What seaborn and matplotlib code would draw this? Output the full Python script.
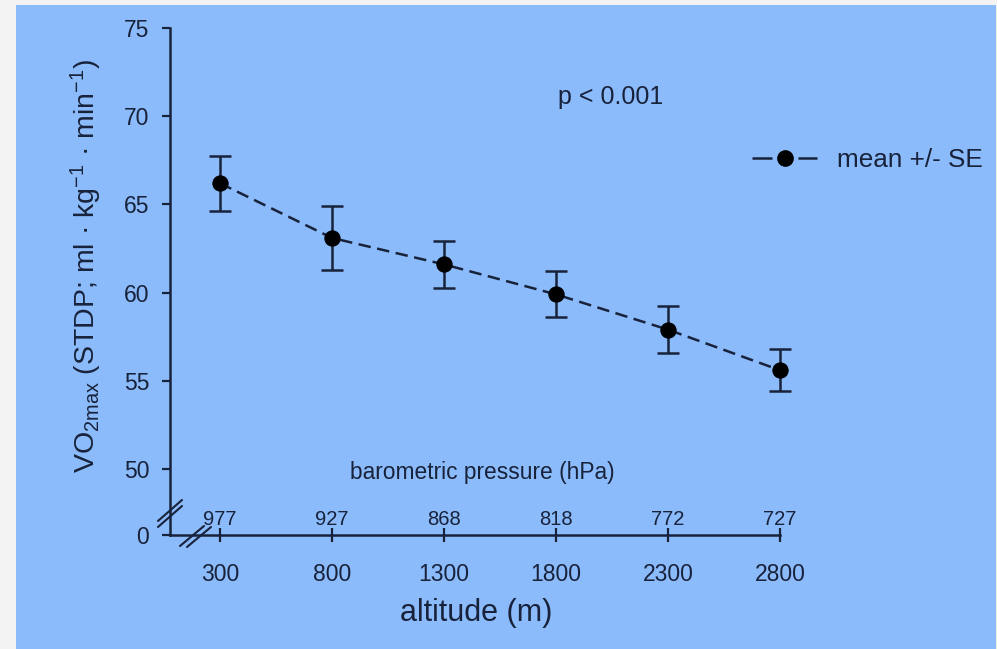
import numpy as np
import pandas as pd
import matplotlib
matplotlib.use("Agg")
import matplotlib.pyplot as plt
from matplotlib.lines import Line2D
from matplotlib.patches import Rectangle
import seaborn as sns

# VO2max per altitude step (mean and standard error)
altitude = [300, 800, 1300, 1800, 2300, 2800]
pressure_hpa = ["977", "927", "868", "818", "772", "727"]
vo2max_mean = [66.2, 63.1, 61.6, 59.9, 57.9, 55.6]
vo2max_se = [1.55, 1.8, 1.35, 1.3, 1.35, 1.2]
y_ticks = [0, 50, 55, 60, 65, 70, 75]

sns.set_theme(style="ticks")
plt.rcParams["font.family"] = ["Liberation Sans", "DejaVu Sans"]
plt.rcParams["mathtext.fontset"] = "custom"
plt.rcParams["mathtext.rm"] = "Liberation Sans"
plt.rcParams["mathtext.it"] = "Liberation Sans:italic"
plt.rcParams["mathtext.bf"] = "Liberation Sans:bold"

INK = "#18223b"
PANEL = "#8bbbfa"

W, H = 997, 649
fig = plt.figure(figsize=(W / 100, H / 100), dpi=100, facecolor="#f3f3f3")
fig.patches.append(Rectangle((16 / W, 0), (996 - 16) / W, (H - 5) / H,
                             transform=fig.transFigure, facecolor=PANEL,
                             edgecolor="none", zorder=-10))
fig.add_artist(Line2D([996.5 / W, 996.5 / W], [0, (H - 5) / H],
                      transform=fig.transFigure, color="#9a9a9a", lw=0.8))

# axes frame in pixel units
ax_left, ax_right, ax_top, ax_bot = 170, 990, 28, 535
ax = fig.add_axes([ax_left / W, 1 - ax_bot / H,
                   (ax_right - ax_left) / W, (ax_bot - ax_top) / H])
ax.set_facecolor("none")

# broken y axis: 0..50 squeezed into a short segment below 50
BREAK, GAP = 50.0, 3.74


def fwd(y):
    y = np.asarray(y, dtype=float)
    return np.where(y >= BREAK, y, BREAK - GAP * (1 - y / BREAK))


def inv(u):
    u = np.asarray(u, dtype=float)
    return np.where(u >= BREAK, u, BREAK * (1 - (BREAK - u) / GAP))


ax.set_yscale("function", functions=(fwd, inv))

df = pd.DataFrame({"altitude": altitude, "vo2max": vo2max_mean, "se": vo2max_se})

ax.errorbar(df["altitude"], df["vo2max"], yerr=df["se"], fmt="none",
            ecolor=INK, elinewidth=1.8, capsize=8, capthick=1.8, zorder=2)
sns.lineplot(data=df, x="altitude", y="vo2max", ax=ax, color=INK,
             linewidth=1.8, linestyle=(0, (5.0, 2.6)), marker="o",
             markersize=11, markerfacecolor="black", markeredgecolor="black",
             legend=False, zorder=3)

ax.set_xlim(77, 3737)
ax.set_ylim(0, 75)
ax.set_xticks(altitude)
ax.set_xticklabels([str(a) for a in altitude])
ax.set_yticks(y_ticks)
ax.set_yticklabels([str(t) for t in y_ticks])

for side in ("top", "right"):
    ax.spines[side].set_visible(False)
for side in ("left", "bottom"):
    ax.spines[side].set_color(INK)
    ax.spines[side].set_linewidth(1.8)
ax.spines["bottom"].set_bounds(77, 2800)

ax.tick_params(axis="x", direction="inout", length=10, width=1.6,
               colors=INK, labelsize=16.5, pad=15)
ax.tick_params(axis="y", direction="out", length=6, width=1.6,
               colors=INK, labelsize=16.5, pad=9)

ax.set_xlabel("altitude (m)", fontsize=22, color=INK)
ax.xaxis.set_label_coords((476 - ax_left) / (ax_right - ax_left),
                          -(598 - ax_bot) / (ax_bot - ax_top))
ax.set_ylabel(r"VO$_{\mathrm{2max}}$ (STDP; ml · kg$^{-1}$ · min$^{-1}$)",
              fontsize=20.5, color=INK)
ax.yaxis.set_label_coords(-(ax_left - 104) / (ax_right - ax_left),
                          (ax_bot - 266) / (ax_bot - ax_top))

# barometric pressure labels above each altitude tick
for a, p in zip(altitude, pressure_hpa):
    ax.annotate(p, xy=(a, 0), xycoords=("data", "axes fraction"),
                xytext=(0, 7.5), textcoords="offset points",
                ha="center", va="baseline", fontsize=14.5, color=INK)
ax.text((482 - ax_left) / (ax_right - ax_left), (ax_bot - 472) / (ax_bot - ax_top),
        "barometric pressure (hPa)", transform=ax.transAxes,
        ha="center", va="center", fontsize=16.4, color=INK)

# break marks on both axes
def px_to_axes(x, y):
    return ((x - ax_left) / (ax_right - ax_left), (ax_bot - y) / (ax_bot - ax_top))


for (x0, y0, x1, y1) in [(158, 521, 182, 500), (158, 527, 182, 506),
                         (180, 546, 204, 526), (187, 547, 211, 527)]:
    p0 = px_to_axes(x0, y0)
    p1 = px_to_axes(x1, y1)
    ax.add_line(Line2D([p0[0], p1[0]], [p0[1], p1[1]], transform=ax.transAxes,
                       color=INK, lw=1.5, clip_on=False))

fig.text(611 / W, 1 - 97 / H, "p < 0.001", ha="center", va="center",
         fontsize=18, color=INK)

handle = Line2D([], [], color=INK, lw=1.8, linestyle=(0, (8.0, 10.4)),
                marker="o", markersize=11, markerfacecolor="black",
                markeredgecolor="black")
fig.legend([handle], ["mean +/- SE"], loc="center left",
           bbox_to_anchor=(752 / W, 1 - 160 / H), frameon=False, fontsize=18.8,
           handlelength=2.5, handletextpad=0.75, borderpad=0, borderaxespad=0,
           labelcolor=INK)

fig.savefig("out.png", dpi=100, facecolor=fig.get_facecolor())
